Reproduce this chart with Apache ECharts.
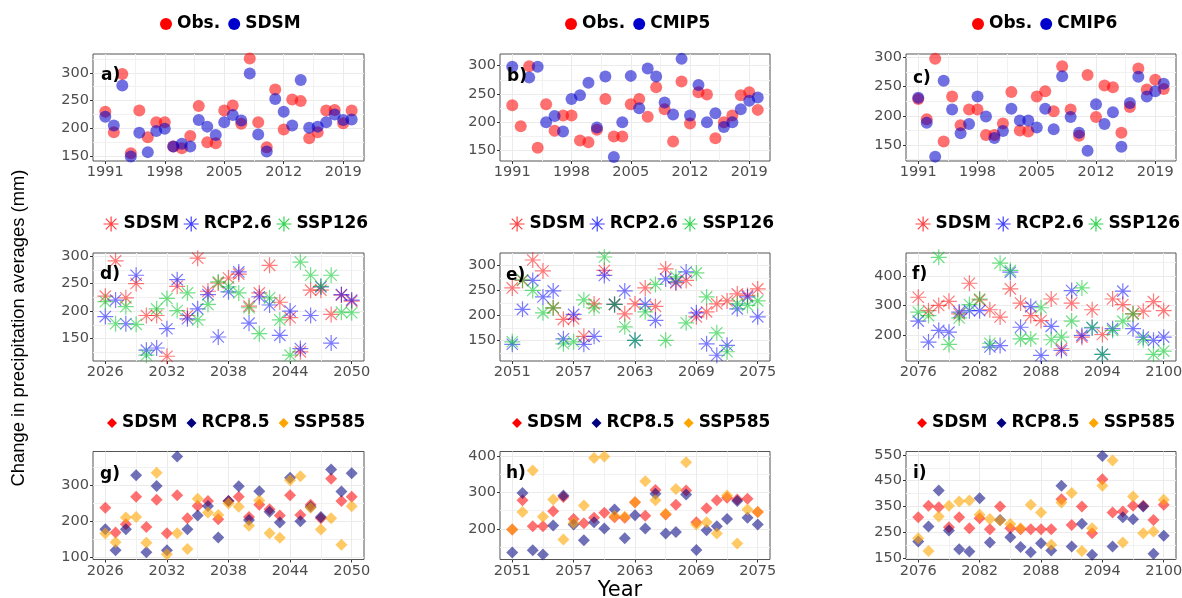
<!DOCTYPE html>
<html><head><meta charset="utf-8">
<script src="https://cdn.jsdelivr.net/npm/echarts@6/dist/echarts.min.js"></script>
<style>html,body{margin:0;padding:0;background:#fff}#c{width:1182px;height:598px}</style>
</head><body><div id="c"></div>
<script>
// ---------- categories (years) ----------
const yrs1 = [1991,1992,1993,1994,1995,1996,1997,1998,1999,2000,2001,2002,2003,2004,2005,2006,2007,2008,2009,2010,2011,2012,2013,2014,2015,2016,2017,2018,2019,2020];
const yrs2 = [2026,2027,2028,2029,2030,2031,2032,2033,2034,2035,2036,2037,2038,2039,2040,2041,2042,2043,2044,2045,2046,2047,2048,2049,2050];
const yrs3 = [2051,2052,2053,2054,2055,2056,2057,2058,2059,2060,2061,2062,2063,2064,2065,2066,2067,2068,2069,2070,2071,2072,2073,2074,2075];
const yrs4 = [2076,2077,2078,2079,2080,2081,2082,2083,2084,2085,2086,2087,2088,2089,2090,2091,2092,2093,2094,2095,2096,2097,2098,2099,2100];

// ---------- series values ----------
const obsA  = [230,193,298,155,232,184,211,211,167,164,186,240,175,173,232,241,208,326,211,166,270,198,252,249,182,193,232,233,209,232];
const sdsmA = [221,205,277,149,192,157,195,199,167,172,167,215,203,188,211,224,214,299,189,158,253,230,205,287,201,203,211,225,215,216];
const obsB  = [230,193,299,155,232,185,212,212,168,165,187,241,175,175,232,241,210,262,223,166,272,198,253,249,172,200,212,248,253,222];
const cmip5 = [298,null,279,298,200,211,184,241,248,270,191,281,139,200,282,225,295,281,235,214,312,212,266,200,216,192,200,223,238,244];
const obsC  = [229,194,298,156,233,184,211,211,167,167,187,241,175,173,233,242,208,285,211,166,270,198,252,249,171,215,281,245,262,246];
const cmip6 = [231,188,130,260,211,170,186,233,199,162,174,212,192,192,180,212,177,268,198,171,140,220,186,206,147,222,267,233,242,255];

const sdsmD   = [227,291,224,250,192,192,118,245,192,296,236,251,260,267,209,233,283,216,188,126,238,238,194,229,218];
const rcp26D  = [190,220,177,265,129,133,168,257,186,204,230,153,235,271,178,226,211,156,200,132,192,244,142,230,220];
const ssp126D = [217,177,208,176,120,204,223,201,233,184,212,253,244,233,206,159,224,184,120,289,265,245,265,198,197];

const sdsmE   = [255,270,311,289,215,192,193,158,223,290,222,203,223,255,218,293,265,270,197,207,223,229,243,240,253];
const rcp26E  = [142,212,270,237,249,153,202,142,158,280,222,249,150,222,190,273,267,287,205,143,120,140,213,237,197];
const ssp126E = [147,271,250,205,215,143,147,231,215,317,222,177,150,207,262,150,277,185,285,237,165,127,223,220,229];

const sdsmF   = [329,283,301,315,272,377,320,286,261,358,309,266,249,323,152,309,192,286,201,323,304,272,281,314,283];
const rcp26F  = [247,175,215,209,278,283,283,158,163,415,226,297,129,229,146,352,198,224,133,221,350,221,192,181,192];
const ssp126F = [278,266,466,167,258,304,323,171,446,421,186,186,293,183,192,247,361,226,133,215,247,272,183,133,144];

const sdsmG   = [237,168,191,268,183,259,166,272,208,242,256,205,256,268,211,245,233,215,272,217,245,208,318,256,268];
const rcp85G  = [177,118,177,328,113,298,118,380,177,215,242,154,256,297,203,283,226,196,321,199,240,211,344,282,333];
const ssp585G = [165,141,210,211,139,335,107,166,122,262,224,217,249,240,187,257,166,153,314,325,237,176,208,134,241];

const sdsmH   = [198,278,207,207,248,287,227,215,230,244,232,230,273,236,306,239,266,305,218,256,278,285,280,282,246];
const rcp85H  = [135,298,141,130,209,291,212,169,218,201,253,174,237,201,296,187,191,294,142,196,207,227,276,230,212];
const ssp585H = [198,246,360,233,280,171,216,264,394,398,235,233,273,330,278,241,309,382,212,218,187,291,160,253,246];

const sdsmI   = [309,353,347,270,309,266,305,262,350,266,262,262,262,262,378,279,350,247,456,327,331,353,353,298,357];
const rcp85I  = [215,273,412,257,185,176,382,211,298,231,193,173,208,180,430,195,283,163,546,195,309,301,350,167,237];
const ssp585I = [227,178,311,353,369,373,318,302,296,282,266,357,327,202,366,402,178,266,430,528,211,389,247,253,376];

// ---------- tick labels ----------
const xTicks1 = [1991,1998,2005,2012,2019], xMinor1 = [1994.5,2001.5,2008.5,2015.5];
const xTicks2 = [2026,2032,2038,2044,2050], xMinor2 = [2029,2035,2041,2047];
const xTicks3 = [2051,2057,2063,2069,2075], xMinor3 = [2054,2060,2066,2072];
const xTicks4 = [2076,2082,2088,2094,2100], xMinor4 = [2079,2085,2091,2097];
const yTicks50 = [150,200,250,300];
const yMinorA = [175,225,275,325], yMinorB = [175,225,275], yMinorC = [125,175,225,275];
const yMinorDE = [125,175,225,275];
const yTicksF = [200,300,400], yMinorF = [150,250,350,450];
const yTicksG = [100,200,300], yMinorG = [150,250,350];
const yTicksH = [200,300,400], yMinorH = [150,250,350];
const yTicksI = [150,250,350,450,550], yMinorI = [200,300,400,500];

// ---------- styles ----------
const STAR = 'path://M0,-10L0,10M-10,0L10,0M-7.07,-7.07L7.07,7.07M-7.07,7.07L7.07,-7.07';
const sty = {
  obs:  {symbol:'circle', size:12, color:'rgba(255,0,0,0.7)', legend:'#FF0000'},
  blue: {symbol:'circle', size:12, color:'rgba(0,0,205,0.7)', legend:'#0000CD'},
  sR:   {symbol:STAR, size:16, color:'rgba(255,0,0,0.65)', stroke:true, legend:'rgba(255,0,0,0.75)'},
  sB:   {symbol:STAR, size:16, color:'rgba(0,0,255,0.65)', stroke:true, legend:'rgba(0,0,255,0.75)'},
  sG:   {symbol:STAR, size:16, color:'rgba(0,200,40,0.7)', stroke:true, legend:'rgba(0,200,40,0.8)'},
  dR:   {symbol:'diamond', size:12, color:'rgba(255,0,0,0.7)', legend:'#FF0000'},
  dN:   {symbol:'diamond', size:12, color:'rgba(0,0,128,0.7)', legend:'#000080'},
  dO:   {symbol:'diamond', size:12, color:'rgba(255,165,0,0.75)', legend:'#FFA500'}
};

const panels = [
  {key:'a', yrs:yrs1, xt:xTicks1, xm:xMinor1, ymin:141, ymax:334, yt:yTicks50, ym:yMinorA,
   s:[['Obs.',obsA,'obs'],['SDSM',sdsmA,'blue']]},
  {key:'b', yrs:yrs1, xt:xTicks1, xm:xMinor1, ymin:131.8, ymax:320.6, yt:yTicks50, ym:yMinorB,
   s:[['Obs.',obsB,'obs'],['CMIP5',cmip5,'blue']]},
  {key:'c', yrs:yrs1, xt:xTicks1, xm:xMinor1, ymin:122.5, ymax:306, yt:yTicks50, ym:yMinorC,
   s:[['Obs.',obsC,'obs'],['CMIP6',cmip6,'blue']]},
  {key:'d', yrs:yrs2, xt:xTicks2, xm:xMinor2, ymin:109.4, ymax:305.4, yt:yTicks50, ym:yMinorDE,
   s:[['SDSM',sdsmD,'sR'],['RCP2.6',rcp26D,'sB'],['SSP126',ssp126D,'sG']]},
  {key:'e', yrs:yrs3, xt:xTicks3, xm:xMinor3, ymin:108.5, ymax:325, yt:yTicks50, ym:yMinorDE,
   s:[['SDSM',sdsmE,'sR'],['RCP2.6',rcp26E,'sB'],['SSP126',ssp126E,'sG']]},
  {key:'f', yrs:yrs4, xt:xTicks4, xm:xMinor4, ymin:110, ymax:481, yt:yTicksF, ym:yMinorF,
   s:[['SDSM',sdsmF,'sR'],['RCP2.6',rcp26F,'sB'],['SSP126',ssp126F,'sG']]},
  {key:'g', yrs:yrs2, xt:xTicks2, xm:xMinor2, ymin:92.5, ymax:394, yt:yTicksG, ym:yMinorG,
   s:[['SDSM',sdsmG,'dR'],['RCP8.5',rcp85G,'dN'],['SSP585',ssp585G,'dO']]},
  {key:'h', yrs:yrs3, xt:xTicks3, xm:xMinor3, ymin:116, ymax:411.7, yt:yTicksH, ym:yMinorH,
   s:[['SDSM',sdsmH,'dR'],['RCP8.5',rcp85H,'dN'],['SSP585',ssp585H,'dO']]},
  {key:'i', yrs:yrs4, xt:xTicks4, xm:xMinor4, ymin:145, ymax:563, yt:yTicksI, ym:yMinorI,
   s:[['SDSM',sdsmI,'dR'],['RCP8.5',rcp85I,'dN'],['SSP585',ssp585I,'dO']]}
];

// ---------- layout ----------
const cols = [{left:93,width:271},{left:500,width:270},{left:906,width:270}];
const rows = [{top:54,height:107},{top:253,height:108},{top:451.5,height:108}];
const legendPos = [
  [[160,15],[565,15],[972,15]],
  [[103,215],[509,215],[915,215]],
  [[107,414],[512,414],[917,414]]
];
const legendCfg = [
  {w:12,h:12,gap:8},
  {w:15,h:15,gap:4},
  {w:10,h:10,gap:9}
];
const labelPos = {a:[101,67],b:[507,68],c:[913,70],d:[100,266],e:[506,267],f:[912,266],g:[100,466],h:[506,465],i:[913,465]};

const FONT = 'DejaVu Sans';
const grids=[], xAxes=[], yAxes=[], series=[], legends=[], graphics=[];

panels.forEach((p,k)=>{
  const r = Math.floor(k/3), c = k%3;
  grids.push({left:cols[c].left, top:rows[r].top, width:cols[c].width, height:rows[r].height,
    show:true, borderColor:'#555', borderWidth:1, backgroundColor:'#fff', outerBoundsMode:'none', containLabel:false});
  const xmin = p.yrs[0] - (p.yrs[p.yrs.length-1]-p.yrs[0])*0.05;
  const xmax = p.yrs[p.yrs.length-1] + (p.yrs[p.yrs.length-1]-p.yrs[0])*0.05;
  const major = (isX, min, max, ticks) => ({
    type:'value', gridIndex:k, min:min, max:max, position: isX?'bottom':'left',
    axisLine:{show:false},
    axisTick:{show:true, length:3, lineStyle:{color:'#333', width:1}, customValues:ticks},
    axisLabel:{show:true, customValues:ticks, color:'#4D4D4D', fontSize:14.5, fontFamily:FONT, margin:4,
      formatter:(v)=>String(v)},
    splitLine:{show:true, lineStyle:{color:'#EBEBEB', width:1}},
    minorSplitLine:{show:false}
  });
  const minor = (isX, min, max, ticks) => ({
    type:'value', gridIndex:k, min:min, max:max, position: isX?'bottom':'left',
    axisLine:{show:false},
    axisTick:{show:false, customValues:ticks},
    axisLabel:{show:false, customValues:ticks},
    splitLine:{show:true, lineStyle:{color:'#F1F1F1', width:1}}
  });
  xAxes.push(major(true, xmin, xmax, p.xt));
  xAxes.push(minor(true, xmin, xmax, p.xm));
  yAxes.push(major(false, p.ymin, p.ymax, p.yt));
  yAxes.push(minor(false, p.ymin, p.ymax, p.ym));

  const legendData = [];
  p.s.forEach(([name, vals, sk])=>{
    const st = sty[sk];
    const itemStyle = st.stroke ? {color:st.color, borderColor:st.color, borderWidth:1.2} : {color:st.color, borderWidth:0};
    series.push({
      type:'scatter', name:name+'_'+p.key, xAxisIndex:2*k, yAxisIndex:2*k,
      symbol:st.symbol, symbolSize:st.size, itemStyle:itemStyle, silent:true,
      data:p.yrs.map((y,i)=>[y, vals[i]]).filter(d=>d[1]!=null)
    });
    legendData.push({name:name+'_'+p.key, icon:st.symbol,
      itemStyle: st.stroke ? {color:st.legend, borderColor:st.legend, borderWidth:1.2, opacity:1}
                           : {color:st.legend, borderWidth:0, opacity:1}});
  });
  const lc = legendCfg[r];
  legends.push({
    left:legendPos[r][c][0], top:legendPos[r][c][1], padding:0, orient:'horizontal',
    itemWidth:lc.w, itemHeight:lc.h, itemGap:lc.gap, selectedMode:false,
    data:legendData, formatter:(n)=>n.split('_')[0],
    textStyle:{fontFamily:FONT, fontWeight:'bold', fontSize:17, color:'#000', lineHeight:18}
  });
  graphics.push({type:'text', left:labelPos[p.key][0], top:labelPos[p.key][1], z:100,
    style:{text:p.key+')', fontFamily:FONT, fontWeight:'bold', fontSize:17, fill:'#000'}});
});

graphics.push({type:'text', x:19, y:328, rotation:Math.PI/2, z:100,
  style:{text:'Change in precipitation averages (mm)', fontFamily:'Liberation Sans', fontSize:18.4, fill:'#000',
    align:'center', verticalAlign:'middle'}});
graphics.push({type:'text', x:620, y:591, z:100,
  style:{text:'Year', fontFamily:FONT, fontSize:21, fill:'#000', align:'center', verticalAlign:'middle'}});

const chart = echarts.init(document.getElementById('c'), null, {renderer:'canvas'});
chart.setOption({
  animation:false,
  backgroundColor:'#fff',
  grid:grids, xAxis:xAxes, yAxis:yAxes, series:series, legend:legends, graphic:graphics,
  tooltip:{show:false}
});
</script></body></html>
